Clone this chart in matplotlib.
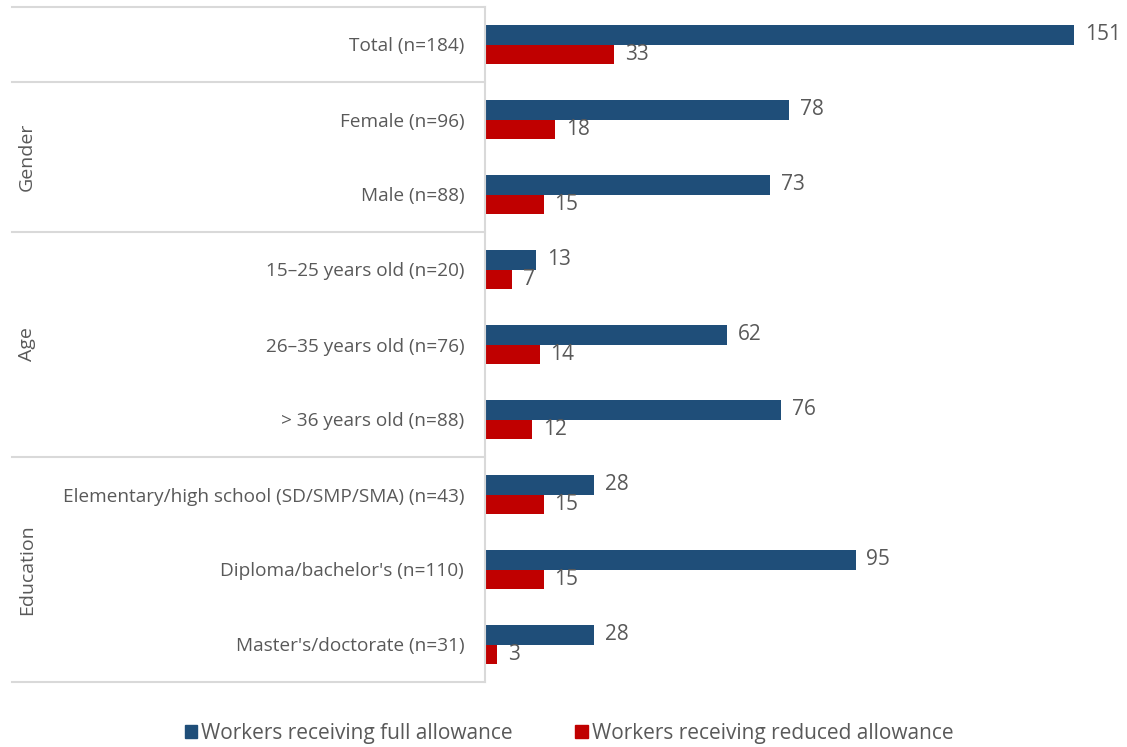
import matplotlib.pyplot as plt
from matplotlib.transforms import blended_transform_factory
from matplotlib.patches import Patch

plt.rcParams['font.family'] = ['Open Sans', 'DejaVu Sans']

categories = ['Total (n=184)', 'Female (n=96)', 'Male (n=88)',
              '15\u201325 years old (n=20)', '26\u201335 years old (n=76)',
              '> 36 years old (n=88)',
              'Elementary/high school (SD/SMP/SMA) (n=43)',
              "Diploma/bachelor's (n=110)", "Master's/doctorate (n=31)"]
full = [151, 78, 73, 13, 62, 76, 28, 95, 28]
reduced = [33, 18, 15, 7, 14, 12, 15, 15, 3]
groups = ['Gender', 'Age', 'Education']
group_centers = [1.5, 4, 7]
separators = [-0.5, 0.5, 2.5, 5.5, 8.5]

blue = '#1F4E79'
red = '#C00000'
grey = '#595959'
line_grey = '#D9D9D9'

fig = plt.figure(figsize=(11.27, 7.47), dpi=100)
ax = fig.add_axes([485 / 1127, 1 - 682 / 747, 642 / 1127, 675 / 747])

y = list(range(len(categories)))
h = 0.26
ax.barh([v - h / 2 for v in y], full, height=h, color=blue)
ax.barh([v + h / 2 for v in y], reduced, height=h, color=red)

for i in y:
    ax.text(full[i] + 2.8, i - h / 2, str(full[i]), va='center', ha='left',
            fontsize=15, color=grey)
    ax.text(reduced[i] + 2.8, i + h / 2, str(reduced[i]), va='center', ha='left',
            fontsize=15, color=grey)

ax.set_xlim(0, 164.6)
ax.set_ylim(8.5, -0.5)
ax.set_xticks([])
ax.set_yticks(y)
ax.set_yticklabels(categories, fontsize=13.7, color=grey)
ax.tick_params(axis='y', length=0, pad=15)
for s in ['top', 'right', 'bottom']:
    ax.spines[s].set_visible(False)
ax.spines['left'].set_color(line_grey)
ax.spines['left'].set_linewidth(1.5)

tr = blended_transform_factory(fig.transFigure, ax.transData)
for s in separators:
    ax.plot([12 / 1127, 485 / 1127], [s, s], transform=tr, color=line_grey,
            lw=1.5, clip_on=False)
for g, c in zip(groups, group_centers):
    ax.text(27 / 1127, c, g, transform=tr, rotation=90, ha='center',
            va='center', fontsize=14, color=grey)

handles = [Patch(color=blue, label='Workers receiving full allowance'),
           Patch(color=red, label='Workers receiving reduced allowance')]
fig.legend(handles=handles, loc='center', bbox_to_anchor=(0.505, 1 - 733 / 747),
           ncol=2, frameon=False, fontsize=15, handlelength=0.6,
           handleheight=0.6, handletextpad=0.2, columnspacing=3.0,
           labelcolor=grey)

fig.savefig('out.png', dpi=100)
